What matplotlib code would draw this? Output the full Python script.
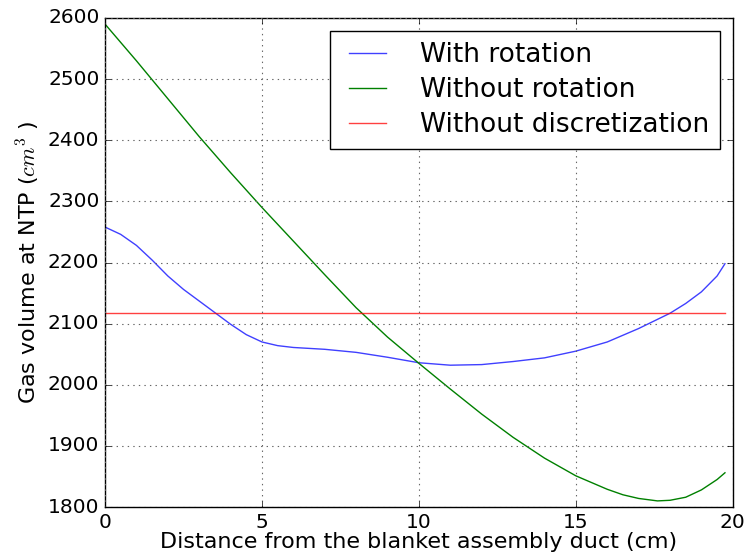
import matplotlib
matplotlib.use("Agg")
import matplotlib.pyplot as plt

plt.style.use("classic")
plt.rcParams["mathtext.fontset"] = "cm"
plt.rcParams["font.family"] = ["DejaVu Sans"]

x_rot = [0, 0.5, 1, 1.5, 2, 2.5, 3, 3.5, 4, 4.5, 5, 5.5, 6, 7, 8, 9, 10, 11, 12, 13, 14, 15, 16, 17, 18, 18.5, 19, 19.5, 19.75]
with_rotation = [2258, 2246, 2228, 2204, 2178, 2156, 2137, 2118, 2099, 2082, 2070, 2064, 2061, 2058, 2053, 2045, 2036, 2032, 2033, 2038, 2044, 2055, 2070, 2092, 2117, 2133, 2152, 2178, 2198]

x_norot = [0, 1, 2, 3, 4, 5, 6, 7, 8, 9, 10, 11, 12, 13, 14, 15, 16, 16.5, 17, 17.6, 18, 18.5, 19, 19.5, 19.75]
without_rotation = [2590, 2530, 2468, 2406, 2347, 2290, 2235, 2180, 2126, 2078, 2035, 1993, 1952, 1914, 1880, 1851, 1829, 1820, 1814, 1810, 1811, 1816, 1828, 1845, 1856]

x_ref = [0, 19.75]
without_discretization = [2118, 2118]

labels = ["With rotation", "Without rotation", "Without discretization"]

fig = plt.figure(figsize=(7.47, 5.59), dpi=100, facecolor="white")
ax = fig.add_axes([0.1406, 0.093, 0.8404, 0.8748])
ax.plot(x_rot, with_rotation, color="b", lw=1.0, label=labels[0], alpha=0.75)
ax.plot(x_norot, without_rotation, color="g", lw=1.0, label=labels[1])
ax.plot(x_ref, without_discretization, color="r", lw=1.0, label=labels[2], alpha=0.75)

ax.set_xlim(0, 20)
ax.set_ylim(1800, 2600)
ax.set_xticks([0, 5, 10, 15, 20])
ax.set_yticks(range(1800, 2601, 100))
ax.tick_params(labelsize=14.5)
ax.grid(True, linestyle=":", color="0.4", lw=0.8)
ax.set_xlabel("Distance from the blanket assembly duct (cm)", fontsize=16, labelpad=0)
ax.set_ylabel("Gas volume at NTP ($cm^3$ )", fontsize=16, labelpad=4)
leg = ax.legend(loc="upper right", fontsize=19, handlelength=2.0, handletextpad=1.0,
                borderpad=0.4, labelspacing=0.35, fancybox=False,
                bbox_to_anchor=(0.979, 0.973), borderaxespad=0)
leg.get_frame().set_linewidth(1.0)

fig.savefig("out.png", dpi=100, facecolor="white")
